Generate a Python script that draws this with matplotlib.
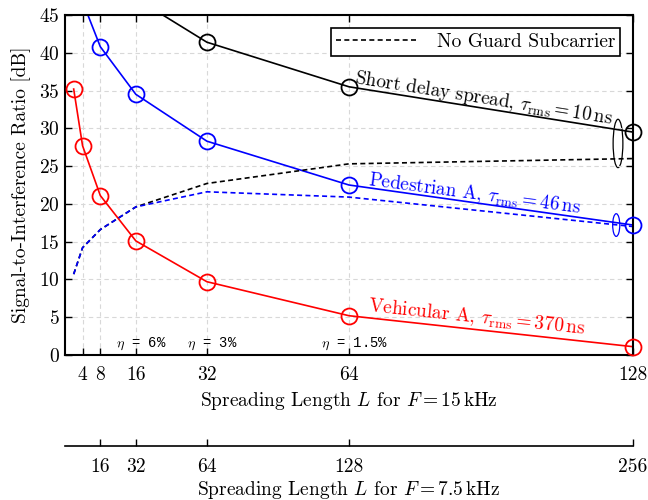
import matplotlib
matplotlib.use('Agg')
import matplotlib.pyplot as plt
from matplotlib.patches import Ellipse

plt.rcParams['font.family'] = 'serif'
plt.rcParams['font.serif'] = ['cmr10']
plt.rcParams['mathtext.fontset'] = 'cm'
plt.rcParams['axes.formatter.use_mathtext'] = True

# spreading length L (F = 15 kHz)
L_short = [16, 32, 64, 128]
sir_short = [47.2, 41.4, 35.5, 29.5]

L_ped = [4, 8, 16, 32, 64, 128]
sir_ped = [46.8, 40.8, 34.5, 28.3, 22.5, 17.2]

L_veh = [2, 4, 8, 16, 32, 64, 128]
sir_veh = [35.2, 27.7, 21.1, 15.1, 9.7, 5.2, 1.1]

# no guard subcarrier
L_ng = [2, 4, 8, 16, 32, 64, 128]
sir_ng_short = [10.7, 14.2, 16.6, 19.6, 22.7, 25.3, 26.0]
sir_ng_ped = [10.7, 14.2, 16.6, 19.6, 21.6, 20.9, 17.0]

ticks_15 = [4, 8, 16, 32, 64, 128]
ticks_75 = [16, 32, 64, 128, 256]
eta_15 = {16: '6%', 32: '3%', 64: '1.5%'}
eta_75 = {32: '3%', 64: '1.5%', 128: '0.8%'}

fs = 14
YMAX = 45
fig = plt.figure(figsize=(6.48, 5.0), dpi=100)
ax = fig.add_axes([0.1, 0.29, 0.877, 0.68])

for xs, ys, c in [(L_short, sir_short, 'black'), (L_ped, sir_ped, 'blue'), (L_veh, sir_veh, 'red')]:
    ax.plot(xs, ys, color=c, lw=1.2)
    vis = [(x, y) for x, y in zip(xs, ys) if y <= YMAX]
    ax.plot([p[0] for p in vis], [p[1] for p in vis], ls='none', marker='o', markersize=11.5,
            markerfacecolor='none', markeredgewidth=1.3, color=c, clip_on=False, zorder=4)
ax.plot(L_ng, sir_ng_short, color='black', ls=(0, (3, 2)), lw=1.2, label='No Guard Subcarrier')
ax.plot(L_ng, sir_ng_ped, color='blue', ls=(0, (3, 2)), lw=1.2)

ax.set_xlim(0, 128)
ax.set_ylim(0, YMAX)
ax.set_xticks(ticks_15)
ax.set_xticklabels([str(t) for t in ticks_15])
ax.set_yticks(range(0, 46, 5))
ax.tick_params(direction='in', top=True, right=True, length=5, width=1, labelsize=fs)
ax.tick_params(axis='x', pad=8)
ax.grid(True, ls=(0, (4, 3)), color='#d8d8d8', lw=0.8)
for s in ax.spines.values():
    s.set_linewidth(1.5)
ax.set_xlabel(r'Spreading Length $L$ for $F = 15\,\mathrm{kHz}$', fontsize=fs, labelpad=4)
ax.set_ylabel('Signal-to-Interference Ratio [dB]', fontsize=fs, labelpad=6)

# ellipses marking the pairs at L = 128
ax.add_patch(Ellipse((124.6, 28.0), 2.2, 6.4, fill=False, color='black', lw=0.9))
ax.add_patch(Ellipse((124.2, 17.2), 1.6, 3.0, fill=False, color='blue', lw=0.9))

ax.text(94.3, 33.9, r'Short delay spread, $\tau_{\mathrm{rms}} = 10\,\mathrm{ns}$',
        color='black', fontsize=13.7, rotation=-9, ha='center', va='center')
ax.text(92.3, 21.3, r'Pedestrian A, $\tau_{\mathrm{rms}} = 46\,\mathrm{ns}$',
        color='blue', fontsize=13.7, rotation=-7.5, ha='center', va='center')
ax.text(92.7, 4.9, r'Vehicular A, $\tau_{\mathrm{rms}} = 370\,\mathrm{ns}$',
        color='red', fontsize=13.9, rotation=-6, ha='center', va='center')

for x, e in eta_15.items():
    ax.annotate(r'$\eta$ = ' + e, xy=(x, 0), xytext=(4, 2), textcoords='offset points',
                ha='center', va='bottom', fontsize=10, family='Liberation Mono')

leg = ax.legend(loc='upper right', fontsize=fs, fancybox=False, edgecolor='black',
                framealpha=1, handlelength=4.3, borderpad=0.25, handletextpad=0.9,
                borderaxespad=0, bbox_to_anchor=(0.977, 0.962))
leg.get_frame().set_linewidth(1.2)

# second axis: F = 7.5 kHz
ax2 = fig.add_axes([0.1, 0.108, 0.877, 0.0])
ax2.set_xlim(0, 256)
ax2.set_ylim(0, 1)
for k in ['top', 'left', 'right']:
    ax2.spines[k].set_visible(False)
ax2.spines['bottom'].set_linewidth(1.2)
ax2.set_yticks([])
ax2.set_xticks(ticks_75)
ax2.set_xticklabels([str(t) for t in ticks_75])
ax2.tick_params(axis='x', direction='in', length=5, width=1, labelsize=fs, pad=9)
ax2.set_xlabel(r'Spreading Length $L$ for $F = 7.5\,\mathrm{kHz}$', fontsize=fs, labelpad=2)
for x, e in eta_75.items():
    ax2.annotate(r'$\eta$ = ' + e, xy=(x, 0), xytext=(4, 2), textcoords='offset points',
                 ha='center', va='bottom', fontsize=10, family='Liberation Mono')

fig.savefig('out.png', dpi=100)
